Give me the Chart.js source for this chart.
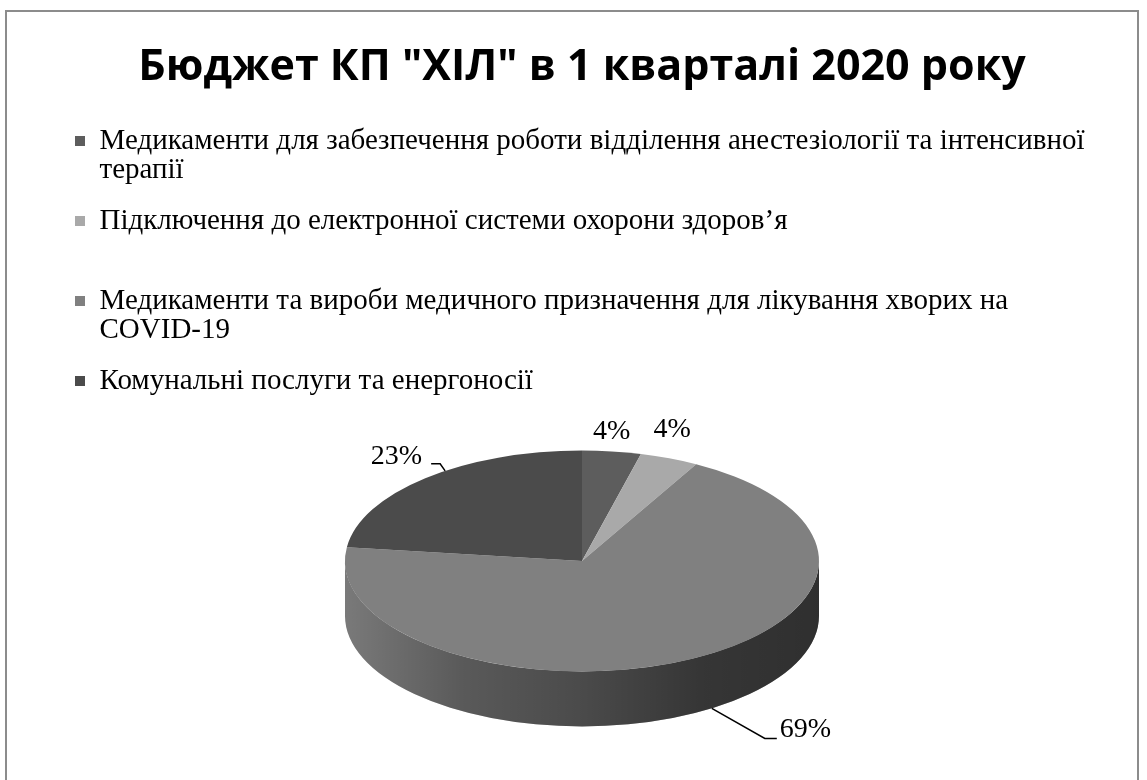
<!DOCTYPE html>
<html>
<head>
<meta charset="utf-8">
<script src="https://cdn.jsdelivr.net/npm/chart.js@4.4.1/dist/chart.umd.min.js"></script>
<style>
  html, body { margin: 0; padding: 0; background: #fff; }
  canvas { display: block; }
</style>
</head>
<body>
<canvas id="budget" width="1147" height="780"></canvas>
<script>
const categories = [
  ['Медикаменти для забезпечення роботи відділення анестезіології та інтенсивної', 'терапії'],
  'Підключення до електронної системи охорони здоров’я',
  ['Медикаменти та вироби медичного призначення для лікування хворих на', 'COVID-19'],
  'Комунальні послуги та енергоносії'
];
const shares = [4, 4, 69, 23];
const sliceColors = ['#5d5d5d', '#a9a9a9', '#808080', '#4b4b4b'];

const TILT = 0.466;   // vertical squash of the top face
const DEPTH = 55;     // height of the side wall

// percentage labels: point on the slice rim (fraction of its angle), optional leader, text offset
const labelPlacement = [
  {frac: 0.5, text: [0, -20], align: 'center'},
  {frac: 0.5, text: [3, -29], align: 'center'},
  {frac: 0.475, wall: true, leader: [[53, 30], [65, 30]], text: [68, 21], align: 'left'},
  {frac: 0.574, leader: [[-5, -7], [-14, -7]], text: [-23, -14], align: 'right'}
];

const serif = "'Liberation Serif', 'Times New Roman', serif";

function arcGeometry(arc) {
  return arc.getProps(['x', 'y', 'startAngle', 'endAngle', 'outerRadius'], true);
}

const pie3d = {
  id: 'pie3d',
  beforeDraw(chart) {
    const ctx = chart.ctx;
    ctx.save();
    ctx.strokeStyle = '#8c8c8c';
    ctx.lineWidth = 2;
    ctx.strokeRect(6, 11, 1132, 800);
    ctx.restore();
  },
  beforeDatasetsDraw(chart) {
    const ctx = chart.ctx;
    const arcs = chart.getDatasetMeta(0).data;
    ctx.save();
    // side wall: only the front half (angles 0..PI) is visible
    arcs.forEach((arc, i) => {
      const {x, y, startAngle, endAngle, outerRadius: r} = arcGeometry(arc);
      const a = Math.max(startAngle, 0);
      const b = Math.min(endAngle, Math.PI);
      if (a >= b) return;
      ctx.beginPath();
      ctx.ellipse(x, y, r, r * TILT, 0, a, b);
      ctx.ellipse(x, y + DEPTH, r, r * TILT, 0, b, a, true);
      ctx.closePath();
      ctx.fillStyle = sliceColors[i];
      ctx.fill();
      const shade = ctx.createLinearGradient(x - r, 0, x + r, 0);
      shade.addColorStop(0, 'rgba(0,0,0,0.05)');
      shade.addColorStop(0.25, 'rgba(0,0,0,0.3)');
      shade.addColorStop(0.5, 'rgba(0,0,0,0.42)');
      shade.addColorStop(0.75, 'rgba(0,0,0,0.58)');
      shade.addColorStop(1, 'rgba(0,0,0,0.63)');
      ctx.fillStyle = shade;
      ctx.fill();
    });
    // squash the flat pie into the top face
    const {x, y} = arcGeometry(arcs[0]);
    ctx.translate(x, y);
    ctx.scale(1, TILT);
    ctx.translate(-x, -y);
  },
  afterDatasetsDraw(chart) {
    const ctx = chart.ctx;
    ctx.restore();

    const total = shares.reduce((s, v) => s + v, 0);
    ctx.save();
    ctx.font = '28px ' + serif;
    ctx.fillStyle = '#000';
    ctx.strokeStyle = '#000';
    ctx.lineWidth = 1.5;
    ctx.textBaseline = 'middle';
    chart.getDatasetMeta(0).data.forEach((arc, i) => {
      const p = labelPlacement[i];
      const {x, y, startAngle, endAngle, outerRadius: r} = arcGeometry(arc);
      const ang = startAngle + (endAngle - startAngle) * p.frac;
      const ax = x + r * Math.cos(ang);
      const ay = y + r * TILT * Math.sin(ang) + (p.wall ? DEPTH : 0);
      if (p.leader) {
        ctx.beginPath();
        ctx.moveTo(ax, ay);
        p.leader.forEach(([dx, dy]) => ctx.lineTo(ax + dx, ay + dy));
        ctx.stroke();
      }
      ctx.textAlign = p.align;
      ctx.fillText(Math.round(shares[i] / total * 100) + '%', ax + p.text[0], ay + p.text[1]);
    });
    ctx.restore();
  }
};

new Chart(document.getElementById('budget'), {
  type: 'pie',
  data: {
    labels: categories,
    datasets: [{
      data: shares,
      backgroundColor: sliceColors,
      borderWidth: 0,
      clip: false
    }]
  },
  options: {
    responsive: false,
    animation: false,
    events: [],
    radius: 237,
    layout: {padding: {top: 0, left: 24, right: 7, bottom: 63.5}},
    plugins: {
      title: {
        display: true,
        text: 'Бюджет КП "ХІЛ" в 1 кварталі 2020 року',
        color: '#000',
        font: {family: "'Open Sans', sans-serif", size: 43, weight: 'bold', lineHeight: 1.2},
        padding: {top: 42.2, bottom: -18.3}
      },
      legend: {
        position: 'top',
        align: 'start',
        labels: {
          boxWidth: 10,
          boxHeight: 10,
          padding: 51,
          color: '#000',
          font: {family: serif, size: 29, lineHeight: 1.0}
        }
      },
      tooltip: {enabled: false}
    }
  },
  plugins: [pie3d]
});
</script>
</body>
</html>
